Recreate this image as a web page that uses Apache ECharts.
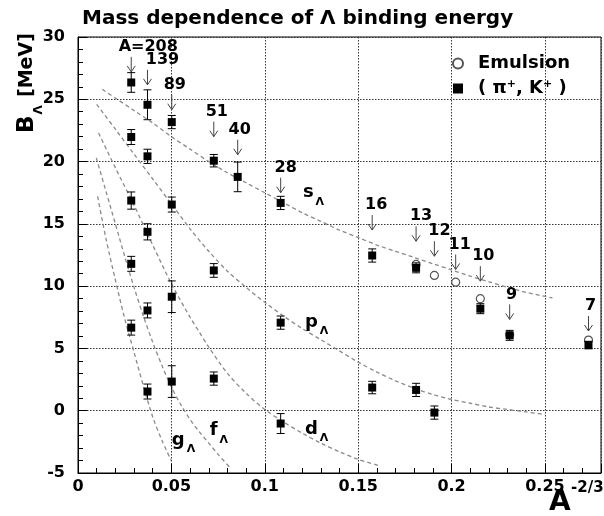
<!DOCTYPE html>
<html><head><meta charset="utf-8">
<script src="https://cdn.jsdelivr.net/npm/echarts@6/dist/echarts.min.js"></script>
<style>html,body{margin:0;padding:0;background:#fff}#c{width:604px;height:516px}</style>
</head><body><div id="c"></div>
<script>
// ---------- data ----------
const massLabels = ['A=208','139','89','51','40','28','16','13','12','11','10','9','7'];
const massX      = [0.0285,0.0372,0.0502,0.0727,0.0855,0.1085,0.1575,0.181,0.1908,0.2022,0.2154,0.2311,0.2733];
const arrowTipB  = [27.2,26.16,24.16,22.0,20.55,17.5,14.5,13.6,12.4,11.34,10.4,7.33,6.4];
const arrowTextDx = [17,15,3,3,2,5,4,5,5,4,3,2,2];

// (pi+, K+) data
const piKx = [0.0285,0.0285,0.0285,0.0285,0.0285, 0.0372,0.0372,0.0372,0.0372,0.0372,
              0.0502,0.0502,0.0502,0.0502, 0.0727,0.0727,0.0727, 0.0855,
              0.1085,0.1085,0.1085, 0.1575,0.1575, 0.181,0.181, 0.1908, 0.2154, 0.2311, 0.2733];
const piKy = [26.35,21.97,16.87,11.79,6.67, 24.56,20.42,14.36,8.05,1.54,
              23.17,16.55,9.15,2.34, 20.07,11.26,2.58, 18.77,
              16.68,7.07,-1.03, 12.46,1.86, 11.47,1.67, -0.15, 8.19, 6.05, 5.27];
const piKerr = [0.79,0.6,0.69,0.6,0.6, 1.2,0.57,0.65,0.6,0.6,
                0.53,0.6,1.27,1.27, 0.5,0.55,0.53, 1.19,
                0.53,0.53,0.8, 0.53,0.5, 0.4,0.53, 0.53, 0.4,0.4,0.3];

// Emulsion data
const emuX = [0.181,0.1908,0.2022,0.2154,0.2311,0.2733];
const emuY = [11.74,10.86,10.32,8.99,6.1,5.67];

// model curves
const sX = [0.013,0.02,0.03,0.04,0.05,0.06,0.07,0.08,0.09,0.10,0.11,0.12,0.13,0.14,0.15,0.16,0.17,0.18,0.19,0.20,0.21,0.22,0.23,0.24,0.254];
const sY = [25.8,25.1,24.1,23.1,22.0,21.0,20.0,19.1,18.3,17.5,16.7,15.9,15.2,14.5,13.9,13.3,12.8,12.3,11.8,11.3,10.8,10.35,9.9,9.5,9.05];
const pX = [0.01,0.02,0.03,0.04,0.05,0.06,0.07,0.08,0.09,0.10,0.11,0.12,0.13,0.14,0.15,0.16,0.17,0.18,0.19,0.20,0.21,0.22,0.23,0.24,0.25];
const pY = [24.6,22.6,20.6,18.6,16.6,14.6,12.8,11.2,9.9,8.7,7.6,6.6,5.7,4.8,3.9,3.1,2.4,1.8,1.3,0.9,0.6,0.3,0.1,-0.1,-0.3];
const dX = [0.011,0.02,0.03,0.04,0.05,0.06,0.065,0.07,0.08,0.09,0.10,0.11,0.12,0.13,0.14,0.15,0.161];
const dY = [22.3,19.5,16.5,13.3,10.2,7.5,6.3,5.1,3.0,1.4,0.1,-0.9,-1.8,-2.6,-3.3,-3.9,-4.4];
const fX = [0.0098,0.015,0.02,0.025,0.03,0.035,0.04,0.045,0.05,0.055,0.06,0.065,0.07,0.075,0.081];
const fY = [20.3,17.6,15.0,12.4,9.9,7.6,5.5,3.6,1.9,0.5,-0.7,-1.7,-2.6,-3.5,-4.5];
const gX = [0.0105,0.015,0.02,0.025,0.03,0.035,0.04,0.045,0.0499];
const gY = [17.2,13.8,10.5,7.4,4.7,2.0,-0.5,-2.4,-4.0];

const curveNames = ['s','p','d','f','g'];
const curveLabelX = [0.1204,0.1215,0.1215,0.0705,0.0502];
const curveLabelY = [17.5,7.1,-1.5,-1.6,-2.36];

const xTicks = [0,0.05,0.1,0.15,0.2,0.25];

// ---------- helpers ----------
const FF = '"DejaVu Sans", "Liberation Sans", sans-serif';
const mctx = document.createElement('canvas').getContext('2d');
function textW(t, size){ mctx.font = 'bold ' + size + 'px ' + FF; return mctx.measureText(t).width; }
const zip = (a, b) => a.map((v, i) => [v, b[i]]);

const curves = [[sX,sY],[pX,pY],[dX,dY],[fX,fY],[gX,gY]];

const chart = echarts.init(document.getElementById('c'), null, {renderer:'canvas'});

function txt(x, y, text, size, align, valign, extra){
  return Object.assign({type:'text', x:x, y:y, style:{text:text, font:'bold '+size+'px '+FF,
    fill:'#000', textFill:'#000', align:align, textAlign:align, verticalAlign:valign, textVerticalAlign:valign}}, extra||{});
}

const wB = textW('B', 23);

const option = {
  animation:false,
  backgroundColor:'#fff',
  title:{text:'Mass dependence of Λ binding energy', left:82, top:9, padding:0,
    textStyle:{fontFamily:FF, fontWeight:'bold', fontSize:20, color:'#000'}},
  grid:{left:78, right:3, top:37, bottom:43, show:true, borderColor:'#000', borderWidth:1,
    containLabel:false, outerBoundsMode:'none'},
  legend:{left:447, top:49, orient:'vertical', itemWidth:10, itemHeight:10, itemGap:6,
    data:[{name:'Emulsion'},{name:'piK'}],
    formatter:function(n){ return n === 'piK' ? '( π{sup|+}, K{sup|+} )' : n; },
    textStyle:{fontFamily:FF, fontWeight:'bold', fontSize:18, color:'#000', lineHeight:19, padding:[0,0,0,10],
      rich:{sup:{fontFamily:FF, fontWeight:'bold', fontSize:11, color:'#000', verticalAlign:'top'}}}},
  xAxis:[{
    type:'value', min:0, max:0.28, interval:0.05, position:'bottom',
    axisLine:{onZero:false, lineStyle:{color:'#000', width:1}},
    axisTick:{inside:true, length:9, lineStyle:{color:'#000'}},
    axisLabel:{margin:6, fontFamily:FF, fontWeight:'bold', fontSize:16, color:'#000',
      formatter:function(v){ const k = xTicks.findIndex(t => Math.abs(t - v) < 1e-6); return k < 0 ? '' : String(xTicks[k]); }},
    splitLine:{show:true, lineStyle:{color:'#333', width:1, type:[1.5,1.5]}}
  },{
    type:'value', min:0, max:0.28, interval:0.01, position:'bottom',
    axisLine:{show:false, onZero:false}, axisLabel:{show:false}, splitLine:{show:false},
    axisTick:{inside:true, length:5, lineStyle:{color:'#000'}}
  }],
  yAxis:{
    type:'value', min:-5, max:30, interval:5,
    axisLine:{onZero:false, lineStyle:{color:'#000', width:1}},
    axisTick:{inside:true, length:9, lineStyle:{color:'#000'}},
    minorTick:{show:true, splitNumber:5, length:5, lineStyle:{color:'#000'}},
    axisLabel:{margin:13, fontFamily:FF, fontWeight:'bold', fontSize:16, color:'#000'},
    splitLine:{show:true, lineStyle:{color:'#333', width:1, type:[1.5,1.5]}}
  },
  graphic:[
    {type:'group', x:27, y:133, rotation:Math.PI/2, silent:true, children:[
      txt(0, 0, 'B', 23, 'left', 'middle'),
      txt(wB + 1, 12, 'Λ', 12, 'left', 'middle'),
      txt(36, 0, '[MeV]', 19, 'left', 'middle')
    ]},
    txt(549, 503, 'A', 28, 'left', 'middle', {silent:true}),
    txt(571, 488, '-2/3', 15, 'left', 'middle', {silent:true})
  ],
  series:[]
};

const curveSeries = curves.map((c, i) => ({
  type:'line', name:'curve_' + curveNames[i], data:zip(c[0], c[1]), smooth:0.3, showSymbol:false, symbol:'none',
  silent:true, z:1, lineStyle:{color:'#8a8a8a', width:1.3, type:[4,3]}
}));
option.series.push(...curveSeries);

option.series.push({
  type:'scatter', name:'Emulsion', data:zip(emuX, emuY), symbol:'circle', symbolSize:8, z:3,
  itemStyle:{color:'#fff', borderColor:'#555', borderWidth:1.2, opacity:1}
});

option.series.push({
  type:'custom', name:'errbars', coordinateSystem:'cartesian2d', z:4, silent:true,
  data:piKx.map((x, i) => [x, piKy[i], piKerr[i]]), encode:{x:0, y:1},
  renderItem:function(params, api){
    const x = api.value(0), y = api.value(1), e = api.value(2);
    const t = api.coord([x, y + e]), b = api.coord([x, y - e]);
    const w = 4, st = {stroke:'#000', lineWidth:1};
    return {type:'group', children:[
      {type:'line', shape:{x1:t[0], y1:t[1], x2:b[0], y2:b[1]}, style:st},
      {type:'line', shape:{x1:t[0]-w, y1:t[1], x2:t[0]+w, y2:t[1]}, style:st},
      {type:'line', shape:{x1:b[0]-w, y1:b[1], x2:b[0]+w, y2:b[1]}, style:st}
    ]};
  }
});

option.series.push({
  type:'scatter', name:'piK', data:zip(piKx, piKy), symbol:'rect', symbolSize:8, z:5,
  itemStyle:{color:'#000', opacity:1}
});

option.series.push({
  type:'custom', name:'arrows', coordinateSystem:'cartesian2d', z:6, silent:true,
  data:massX.map((x, i) => [x, arrowTipB[i], i]), encode:{x:0, y:1},
  renderItem:function(params, api){
    const i = api.value(2);
    const p = api.coord([api.value(0), api.value(1)]);
    const st = {stroke:'#444', lineWidth:1};
    return {type:'group', children:[
      {type:'line', shape:{x1:p[0], y1:p[1]-15, x2:p[0], y2:p[1]}, style:st},
      {type:'line', shape:{x1:p[0]-4, y1:p[1]-6, x2:p[0], y2:p[1]}, style:st},
      {type:'line', shape:{x1:p[0]+4, y1:p[1]-6, x2:p[0], y2:p[1]}, style:st},
      txt(p[0] + arrowTextDx[i], p[1] - 25, massLabels[i], 16, 'center', 'middle')
    ]};
  }
});

option.series.push({
  type:'custom', name:'curveLabels', coordinateSystem:'cartesian2d', z:6, silent:true,
  data:curveLabelX.map((x, i) => [x, curveLabelY[i], i]), encode:{x:0, y:1},
  renderItem:function(params, api){
    const i = api.value(2);
    const p = api.coord([api.value(0), api.value(1)]);
    const w = textW(curveNames[i], 18);
    return {type:'group', children:[
      txt(p[0], p[1], curveNames[i], 18, 'left', 'middle'),
      txt(p[0] + w + 2, p[1] + 9, 'Λ', 11, 'left', 'middle')
    ]};
  }
});

chart.setOption(option);
</script>
</body></html>
